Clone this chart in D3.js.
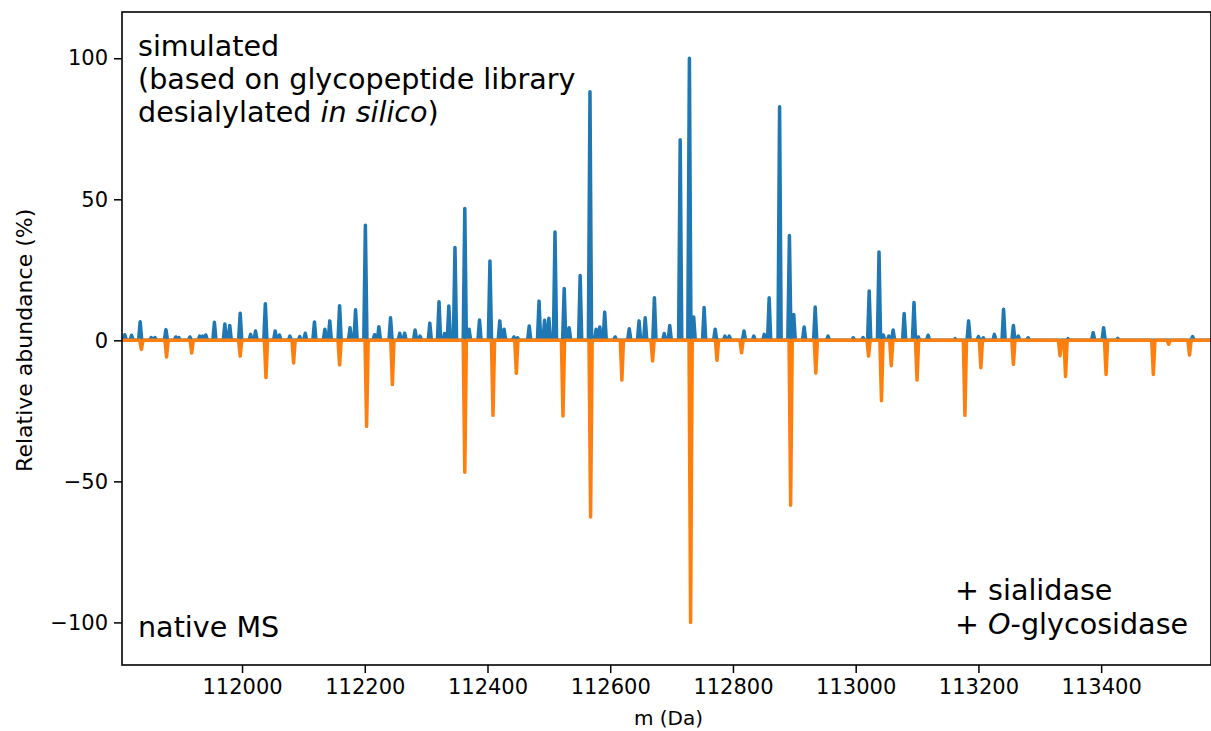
<!DOCTYPE html>
<html>
<head>
<meta charset="utf-8">
<script src="https://cdn.jsdelivr.net/npm/d3@7"></script>
<style>
  body { margin: 0; background: #fff; }
  text { font-family: "DejaVu Sans", sans-serif; }
</style>
</head>
<body>
<div id="chart"></div>
<script>
// simulated spectrum (top, blue): peak masses (Da) and relative abundance (%)
var simMass = [111809, 111820, 111834, 111852, 111858, 111876, 111892, 111897, 111915, 111931,
    111936, 111941, 111955, 111972, 111980, 111997, 112014, 112022, 112038, 112054,
    112061, 112078, 112094, 112103, 112118, 112135, 112143, 112159, 112176, 112185,
    112201, 112216, 112223, 112242, 112257, 112265, 112282, 112290, 112306, 112321,
    112330, 112337, 112347, 112363, 112370, 112387, 112404, 112420, 112427, 112443,
    112449, 112468, 112484, 112493, 112500, 112510, 112525, 112533, 112551, 112567,
    112577, 112583, 112591, 112608, 112631, 112647, 112657, 112672, 112688, 112697,
    112714, 112729, 112736, 112753, 112771, 112787, 112794, 112818, 112834, 112851,
    112859, 112876, 112892, 112899, 112916, 112934, 112955, 112996, 113012, 113022,
    113038, 113045, 113054, 113061, 113079, 113095, 113102, 113118, 113162, 113184,
    113200, 113208, 113226, 113241, 113257, 113265, 113281, 113346, 113387, 113404,
    113427, 113549];
var simAbund = [2.0, 1.8, 6.6, 1.0, 1.0, 3.8, 1.2, 1.0, 1.2, 1.5,
    1.5, 1.9, 6.4, 5.8, 5.3, 9.6, 2.1, 3.3, 13.0, 3.3,
    1.9, 1.5, 1.3, 2.5, 6.5, 3.9, 6.9, 12.3, 4.5, 10.8,
    40.8, 2.0, 4.8, 8.0, 2.5, 2.5, 3.7, 1.5, 6.1, 13.7,
    2.4, 12.2, 32.9, 46.7, 3.9, 7.2, 28.1, 6.9, 3.9, 1.2,
    0.9, 5.1, 13.9, 7.1, 7.8, 38.4, 18.4, 4.5, 23.0, 88.1,
    3.9, 4.7, 10.0, 1.2, 4.1, 6.9, 8.0, 15.1, 2.4, 5.3,
    71.1, 100, 8.3, 11.6, 3.9, 1.5, 1.5, 3.3, 1.5, 2.1,
    15.1, 82.8, 37.2, 9.2, 4.7, 11.8, 1.5, 0.9, 1.0, 17.5,
    31.3, 1.9, 1.5, 3.7, 9.5, 13.4, 1.2, 1.8, 0.6, 6.9,
    1.3, 0.9, 2.1, 11.0, 5.3, 1.5, 0.9, 0.6, 2.7, 4.5,
    0.7, 1.3];

// native MS spectrum (bottom, orange), drawn mirrored
var nativeMass = [111836, 111877, 111918, 111997, 112039, 112084, 112159, 112203, 112245, 112363,
    112409, 112447, 112523, 112568, 112619, 112669, 112731, 112774, 112814, 112894,
    112935, 113021, 113042, 113058, 113100, 113178, 113204, 113257, 113333, 113342,
    113408, 113485, 113510, 113544];
var nativeAbund = [3.2, 5.9, 4.5, 5.6, 13.2, 8.0, 8.7, 30.5, 15.7, 46.8,
    26.6, 11.7, 26.8, 62.6, 14.1, 7.3, 100, 7.1, 4.4, 58.5,
    11.6, 5.6, 21.4, 9.0, 14.1, 26.6, 9.7, 8.5, 5.5, 12.8,
    12.1, 12.1, 1.4, 5.2];

var xTicks = [112000, 112200, 112400, 112600, 112800, 113000, 113200, 113400];
var yTicks = [-100, -50, 0, 50, 100];

var W = 1211, H = 731;
var margin = { top: 12, right: 0, bottom: 66, left: 122 },
    width = W - margin.left - margin.right,
    height = H - margin.top - margin.bottom;

var svg = d3.select("#chart")
    .append("svg")
    .attr("width", W)
    .attr("height", H);

var g = svg.append("g")
    .attr("transform", "translate(" + margin.left + "," + margin.top + ")");

var x = d3.scaleLinear()
    .domain([111804.4, 113579])
    .range([0, width]);

var y = d3.scaleLinear()
    .domain([-115.1, 116.4])
    .range([height, 0]);

g.append("clipPath").attr("id", "clip")
    .append("rect").attr("width", width).attr("height", height);

// turn a peak list into a profile: baseline, narrow spike at each mass
function profile(mass, abund, sign) {
    var hw = 2.6;
    var pts = [[x.domain()[0], 0]];
    mass.forEach(function (m, i) {
        pts.push([m - hw, 0], [m, sign * abund[i]], [m + hw, 0]);
    });
    pts.push([x.domain()[1], 0]);
    return pts;
}

var line = d3.line()
    .x(function (d) { return x(d[0]); })
    .y(function (d) { return y(d[1]); });

var plot = g.append("g").attr("clip-path", "url(#clip)");

plot.append("path")
    .datum(profile(simMass, simAbund, 1))
    .attr("d", line)
    .attr("fill", "none")
    .attr("stroke", "#1f77b4")
    .attr("stroke-width", 3.5)
    .attr("stroke-linejoin", "round");

plot.append("path")
    .datum(profile(nativeMass, nativeAbund, -1))
    .attr("d", line)
    .attr("fill", "none")
    .attr("stroke", "#ff7f0e")
    .attr("stroke-width", 3.5)
    .attr("stroke-linejoin", "round");

// axes
var xAxis = g.append("g")
    .attr("transform", "translate(0," + height + ")")
    .call(d3.axisBottom(x).tickValues(xTicks).tickFormat(d3.format("d")).tickSizeOuter(0).tickSize(8).tickPadding(6));

var yAxis = g.append("g")
    .call(d3.axisLeft(y).tickValues(yTicks).tickFormat(function (d) { return d < 0 ? "\u2212" + Math.abs(d) : d; })
        .tickSizeOuter(0).tickSize(8).tickPadding(6));

[xAxis, yAxis].forEach(function (a) {
    a.select(".domain").remove();
    a.selectAll(".tick line").attr("stroke", "#000").attr("stroke-width", 1.5);
    a.selectAll(".tick text").attr("fill", "#000").style("font-size", "21px")
        .style("font-family", "DejaVu Sans, sans-serif");
});

// frame
g.append("rect")
    .attr("width", width)
    .attr("height", height)
    .attr("fill", "none")
    .attr("stroke", "#000")
    .attr("stroke-width", 1.6);

// axis labels
svg.append("text")
    .attr("x", margin.left + x(112695))
    .attr("y", 725)
    .attr("text-anchor", "middle")
    .style("font-size", "20px")
    .attr("fill", "#000")
    .text("m (Da)");

svg.append("text")
    .attr("transform", "translate(24," + (margin.top + y(0)) + ")rotate(-90)")
    .attr("text-anchor", "middle")
    .attr("dy", "0.35em")
    .style("font-size", "22px")
    .attr("fill", "#000")
    .text("Relative abundance (%)");

// annotations
var ann = svg.append("g").style("font-size", "28.6px").attr("fill", "#000");
ann.append("text").attr("x", 138).attr("y", 56).text("simulated");
ann.append("text").attr("x", 138).attr("y", 89).text("(based on glycopeptide library");
var t3 = ann.append("text").attr("x", 138).attr("y", 122);
t3.append("tspan").text("desialylated ");
t3.append("tspan").style("font-style", "italic").text("in silico");
t3.append("tspan").text(")");

ann.append("text").attr("x", 138).attr("y", 637).text("native MS");
ann.append("text").attr("x", 955).attr("y", 600).text("+ sialidase");
var t4 = ann.append("text").attr("x", 955).attr("y", 634);
t4.append("tspan").text("+ ");
t4.append("tspan").style("font-style", "italic").text("O");
t4.append("tspan").text("-glycosidase");
</script>
</body>
</html>
